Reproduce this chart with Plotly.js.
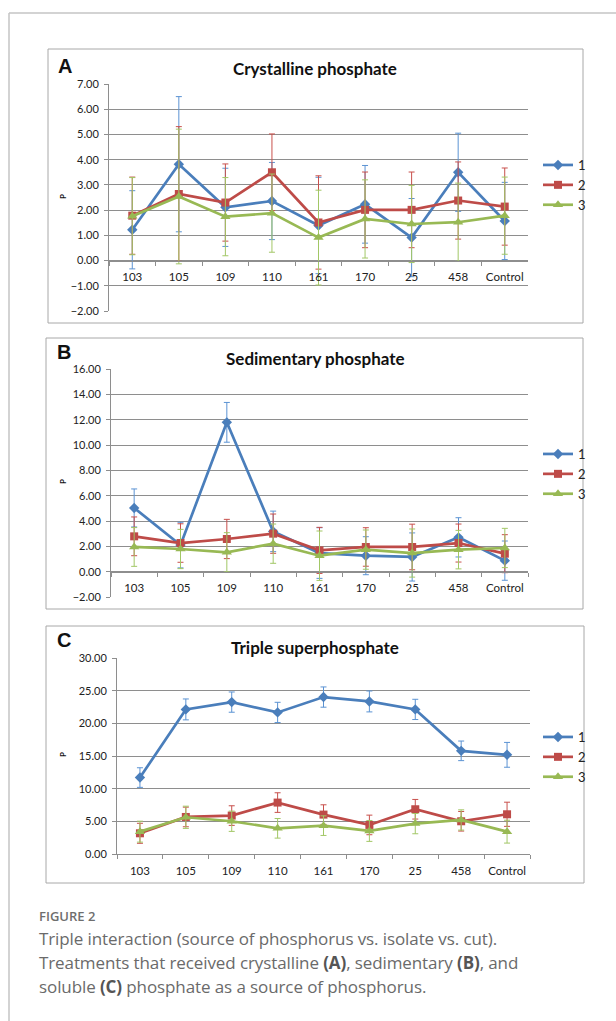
<!DOCTYPE html>
<html><head><meta charset="utf-8">
<script src="https://cdn.plot.ly/plotly-3.0.1.min.js"></script>
<style>
html,body{margin:0;padding:0;background:#fff;width:616px;height:1021px;overflow:hidden;position:relative}
#chart{position:absolute;left:0;top:0;width:616px;height:1021px}
#cap{position:absolute;left:39px;top:907px;width:578px;font-family:"Open Sans",Lato,sans-serif;color:#6a6a6a}
#cap .fig{font-size:13px;font-weight:600;color:#6e6e6e;line-height:18px;margin-bottom:2px}
#cap .txt{font-size:17px;line-height:24px;font-weight:400;letter-spacing:-0.1px}
#cap b{color:#555;font-weight:700}
</style></head><body>
<div id="chart"></div>
<div id="cap"><div class="fig">FIGURE 2</div><div class="txt">Triple interaction (source of phosphorus vs. isolate vs. cut).<br>Treatments that received crystalline <b>(A)</b>, sedimentary <b>(B)</b>, and<br>soluble <b>(C)</b> phosphate as a source of phosphorus.</div></div>
<script>
// ---- data ----
var categories = ['103','105','109','110','161','170','25','458','Control'];
var seriesNames = ['1','2','3'];

var crystalline1    = [1.22,3.82,2.11,2.36,1.39,2.23,0.91,3.50,1.57];
var crystalline1Err = [1.55,2.68,1.55,1.53,1.91,1.54,1.55,1.55,1.53];
var crystalline2    = [1.78,2.64,2.30,3.50,1.51,2.01,2.01,2.38,2.14];
var crystalline2Err = [1.53,2.67,1.53,1.52,1.85,1.50,1.50,1.53,1.53];
var crystalline3    = [1.76,2.54,1.74,1.88,0.91,1.65,1.45,1.52,1.78];
var crystalline3Err = [1.53,2.67,1.55,1.55,1.88,1.55,1.53,1.55,1.53];

var sedimentary1    = [5.03,2.10,11.79,3.18,1.47,1.26,1.16,2.71,0.87];
var sedimentary1Err = [1.50,1.80,1.57,1.60,2.00,1.50,1.90,1.55,1.55];
var sedimentary2    = [2.79,2.26,2.58,3.00,1.68,1.95,1.95,2.26,1.42];
var sedimentary2Err = [1.53,1.52,1.55,1.55,1.82,1.52,1.80,1.50,1.50];
var sedimentary3    = [1.95,1.79,1.53,2.21,1.26,1.74,1.47,1.74,1.87];
var sedimentary3Err = [1.53,1.55,1.55,1.55,1.95,1.55,1.90,1.52,1.55];

var triple1    = [11.70,22.13,23.25,21.67,24.02,23.35,22.13,15.79,15.18];
var triple1Err = [1.50,1.60,1.55,1.55,1.55,1.60,1.55,1.50,1.90];
var triple2    = [3.17,5.67,5.88,7.87,6.03,4.45,6.85,5.01,6.08];
var triple2Err = [1.53,1.50,1.50,1.50,1.50,1.50,1.50,1.50,1.85];
var triple3    = [3.42,5.62,5.01,3.93,4.34,3.53,4.65,5.21,3.42];
var triple3Err = [1.60,1.70,1.55,1.50,1.50,1.60,1.55,1.55,1.75];

var panelTitles = ['Crystalline phosphate','Sedimentary phosphate','Triple superphosphate'];
var panelLetters = ['A','B','C'];
var yTitle = 'P';

// ---- styles ----
var W = 616, H = 1021;
function px(x){return x/W;}
function py(y){return 1-y/H;}
var lineColors = ['#4A7EBB','#BE4B48','#98B954'];
var errColors  = ['#5B93D3','#C8504C','#A2C766'];
var symbols = ['diamond','square','triangle-up'];
var msizes = [8,8,9];
var gridC = '#8e8e8e';
var fontF = 'Lato, Carlito, sans-serif';

var panels = [
  {vals:[crystalline1,crystalline2,crystalline3], errs:[crystalline1Err,crystalline2Err,crystalline3Err],
   xd:[px(109),px(528)], yd:[py(311),py(84)], yr:[-2,7], dt:1, free:true,
   box:[48,49,583,323], title:[315,69], letter:[56,66], pl:197, leg:185},
  {vals:[sedimentary1,sedimentary2,sedimentary3], errs:[sedimentary1Err,sedimentary2Err,sedimentary3Err],
   xd:[px(111),px(528)], yd:[py(597),py(369)], yr:[-2,16], dt:2, free:true,
   box:[46,338,583,609], title:[315,358], letter:[55,352], pl:482, leg:474},
  {vals:[triple1,triple2,triple3], errs:[triple1Err,triple2Err,triple3Err],
   xd:[px(117),px(530)], yd:[py(854),py(658)], yr:[0,30], dt:5, free:false,
   box:[46,626,584,883], title:[315,647], letter:[55,640], pl:755, leg:757}
];

var data = [], layout = {
  width:W, height:H, margin:{l:0,r:0,t:0,b:0}, paper_bgcolor:'rgba(0,0,0,0)', plot_bgcolor:'rgba(0,0,0,0)',
  font:{family:fontF, color:'#222'}, annotations:[], shapes:[]
};

// outer frame
layout.shapes.push({type:'line',xref:'paper',yref:'paper',x0:px(9),x1:1,y0:py(13),y1:py(13),line:{color:'#c4c4c4',width:1.5}});
layout.shapes.push({type:'line',xref:'paper',yref:'paper',x0:px(9),x1:px(9),y0:py(13),y1:0,line:{color:'#c4c4c4',width:1.5}});

panels.forEach(function(p,i){
  var k = i===0 ? '' : String(i+1);
  var xa = 'xaxis'+k, ya = 'yaxis'+k;
  var legName = i===0 ? 'legend' : 'legend'+(i+1);
  for (var s=0;s<3;s++){
    data.push({
      type:'scatter', mode:'lines+markers', x:categories, y:p.vals[s],
      xaxis:'x'+k, yaxis:'y'+k, name:seriesNames[s], legend:legName,
      line:{color:lineColors[s], width:2.7},
      marker:{symbol:symbols[s], size:msizes[s], color:lineColors[s]},
      error_y:{type:'data', array:p.errs[s], visible:true, color:errColors[s], thickness:1, width:3}
    });
  }
  var pos = p.yd[0] + (0-p.yr[0])/(p.yr[1]-p.yr[0])*(p.yd[1]-p.yd[0]);
  layout[xa] = {
    type:'category', categoryorder:'array', categoryarray:categories, range:[-0.5,8.5],
    domain:p.xd, anchor: p.free ? 'free' : 'y'+k,
    showgrid:false, zeroline:false, showline:true, linecolor:gridC, linewidth:1,
    ticks:'outside', tickson:'boundaries', ticklen:4, tickcolor:gridC, tickangle:0,
    tickfont:{family:fontF, size:11.5, color:'#222'}, ticklabelstandoff:6, fixedrange:true
  };
  if(p.free) layout[xa].position = pos;
  layout[ya] = {
    domain:p.yd, range:p.yr, dtick:p.dt, tick0:0, anchor:'x'+k, tickformat:'.2f',
    showgrid:true, gridcolor:gridC, gridwidth:1, zeroline:false,
    showline:true, linecolor:gridC, linewidth:1, ticks:'outside', ticklen:4, tickcolor:gridC,
    tickfont:{family:fontF, size:11, color:'#222'}, ticklabelstandoff:3, fixedrange:true
  };
  layout[legName] = {
    x:px(538), xanchor:'left', y:py(p.leg), yanchor:'middle', bgcolor:'rgba(0,0,0,0)',
    font:{family:fontF, size:13, color:'#222'}, tracegroupgap:0, itemwidth:30
  };
  // panel box
  layout.shapes.push({type:'rect',xref:'paper',yref:'paper',x0:px(p.box[0]),x1:px(p.box[2]),y0:py(p.box[3]),y1:py(p.box[1]),line:{color:'#a8a8a8',width:1}});
  // title
  layout.annotations.push({xref:'paper',yref:'paper',x:px(p.title[0]),y:py(p.title[1]),xanchor:'center',yanchor:'middle',
    text:'<b>'+panelTitles[i]+'</b>',showarrow:false,font:{family:fontF,size:17,color:'#111'}});
  // letter
  layout.annotations.push({xref:'paper',yref:'paper',x:px(p.letter[0]),y:py(p.letter[1]),xanchor:'left',yanchor:'middle',
    text:'<b>'+panelLetters[i]+'</b>',showarrow:false,font:{family:'Liberation Sans, Arial, sans-serif',size:20,color:'#111'}});
  // y title
  layout.annotations.push({xref:'paper',yref:'paper',x:px(63),y:py(p.pl),xanchor:'center',yanchor:'middle',
    text:'<b>'+yTitle+'</b>',textangle:-90,showarrow:false,font:{family:fontF,size:8,color:'#111'}});
});

Plotly.newPlot('chart', data, layout, {displayModeBar:false, staticPlot:true});
</script>
</body></html>
